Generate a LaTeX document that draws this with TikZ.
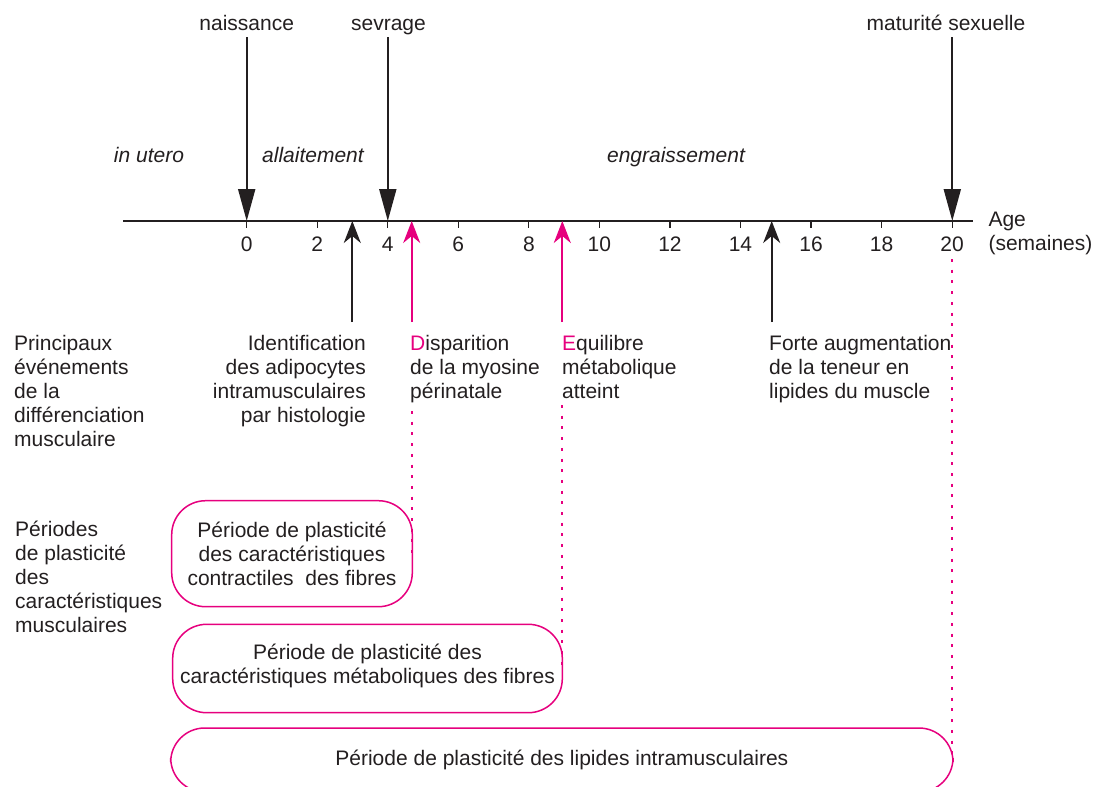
\documentclass[tikz,border=0pt]{standalone}
\usepackage{fontspec}
\setmainfont{Liberation Sans}
\usetikzlibrary{arrows.meta,positioning}
\definecolor{ink}{RGB}{35,31,32}
\definecolor{rose}{RGB}{230,0,126}

\begin{document}
\begin{tikzpicture}[x=1pt,y=-1pt,
  every node/.style={font=\fontsize{21}{24}\selectfont,text=ink,inner sep=0pt},
  toplbl/.style={anchor=base,text depth=0pt,outer ysep=6.5pt},
  phase/.style={anchor=base,font=\fontsize{21}{24}\selectfont\itshape},
  evt/.style={anchor=base west,align=left},
  down/.style={ink,line width=2pt,-{Triangle[length=32pt,width=17pt]}},
  up/.style={line width=2pt,-{Stealth[length=22pt,width=17pt,inset=7pt]}},
  period/.style={draw=rose,line width=1.5pt,rounded corners=34pt,align=center},
  dots/.style={rose,line width=2pt,dash pattern=on 3pt off 7.7pt}]
  \useasboundingbox (0,0) rectangle (1109,787);
  \clip (0,0) rectangle (1109,787);

  % time axis
  \coordinate (ax0) at (123.3,221);
  \coordinate (ax1) at (973.3,221);
  \draw[ink,line width=1.2pt] (ax0) -- (ax1);
  \foreach \w in {0,2,...,20}{
    \draw[ink,line width=1.2pt] (246.7+35.27*\w,221) -- ++(0,7);
    \node[anchor=base] (t\w) at (246.7+35.27*\w,251.5) {\w};
  }
  % base = last line
  \node[evt] (age) at (988.3,250.7) {Age\\(semaines)};

  % points on the axis
  \coordinate (a0)  at (246.7,221);
  \coordinate (a4)  at (387.8,221);
  \coordinate (a20) at (952.3,221);
  \coordinate (e3)  at (352.3,221);
  \coordinate (eD)  at (411.7,221);
  \coordinate (eE)  at (562.3,221);
  \coordinate (e15) at (771.7,221);

  % stages
  \node[toplbl] (naiss) at (246.7,30.5) {naissance};
  \node[toplbl] (sevr)  at (388.5,30.5) {sevrage};
  \node[toplbl] (matur) at (946,30.5) {maturité sexuelle};
  \draw[down] (naiss.south -| a0) -- (a0);
  \draw[down] (sevr.south -| a4) -- (a4);
  \draw[down] (matur.south -| a20) -- (a20);

  \node[phase] (utero) at (149,162.5) {in utero};
  \node[phase] (allait) at (313,162.5) {allaitement};
  \node[phase] (engr) at (676,162.5) {engraissement};

  % events
  \node[evt] (princ) at (14,446.5) {Principaux\\événements\\de la\\différenciation\\musculaire};
  \node[anchor=base east,align=right] (ident) at (366,422.5) {Identification\\des adipocytes\\intramusculaires\\par histologie};
  \node[evt] (disp) at (410,398.5) {\textcolor{rose}{D}isparition\\de la myosine\\périnatale};
  \node[evt] (equil) at (562,398.5) {\textcolor{rose}{E}quilibre\\métabolique\\atteint};
  \node[evt] (forte) at (769,398.5) {Forte augmentation\\de la teneur en\\lipides du muscle};

  \coordinate (b3)  at (352.3,322);
  \coordinate (bD)  at (411.7,322);
  \coordinate (bE)  at (562.3,322);
  \coordinate (b15) at (771.7,322);
  \draw[up,ink]  (b3) -- (e3);
  \draw[up,rose] (bD) -- (eD);
  \draw[up,rose] (bE) -- (eE);
  \draw[up,ink]  (b15) -- (e15);

  % plasticity periods
  \node[evt] (perio) at (15,632) {Périodes\\de plasticité\\des\\caractéristiques\\musculaires};
  \node[period,minimum width=240.6pt,minimum height=106pt] (box1) at (292,553.7)
    {Période de plasticité\\des caractéristiques\\contractiles\ \ des fibres};
  \node[period,minimum width=389.6pt,minimum height=88.4pt,text depth=9pt] (box2) at (367.5,668.5)
    {Période de plasticité des\\caractéristiques métaboliques des fibres};
  \node[period,minimum width=782.3pt,minimum height=64pt] (box3) at (561.85,760)
    {Période de plasticité des lipides intramusculaires};

  \coordinate (dD)  at (411.7,411);
  \coordinate (dE)  at (562.3,405);
  \coordinate (d20) at (952.3,259);
  \draw[dots] (dD) -- (dD |- box1.east);
  \draw[dots] (dE) -- (dE |- box2.east);
  \draw[dots] (d20) -- (d20 |- box3.east);
\end{tikzpicture}
\end{document}
